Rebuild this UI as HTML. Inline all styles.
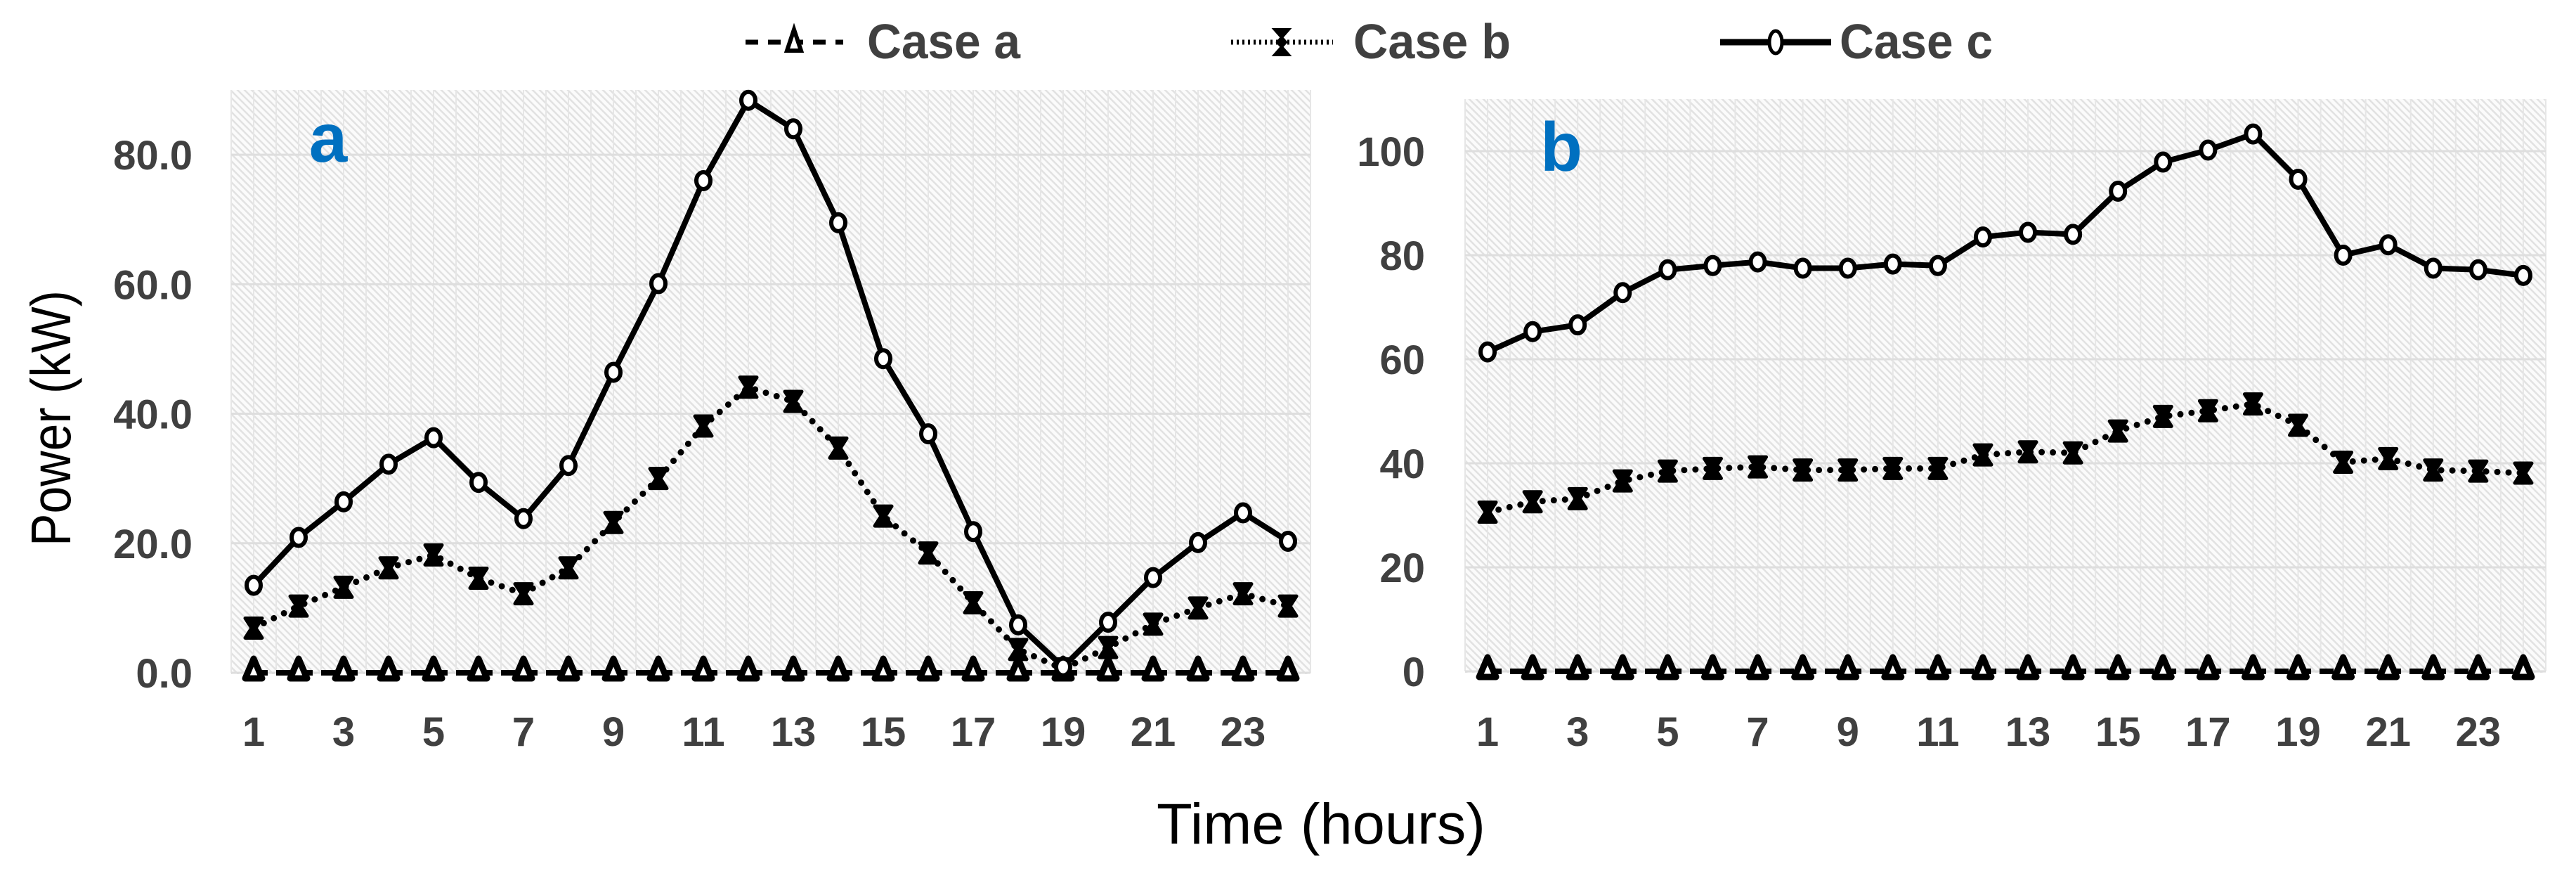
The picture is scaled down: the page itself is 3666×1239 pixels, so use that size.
<!DOCTYPE html>
<html><head><meta charset="utf-8"><style>
html,body{margin:0;padding:0;background:#fff;}
svg{display:block;}
text{font-family:"Liberation Sans",sans-serif;}
</style></head><body>
<svg id="chart" width="3666" height="1239" viewBox="0 0 3666 1239" xmlns="http://www.w3.org/2000/svg">
<defs>
<pattern id="hatch" patternUnits="userSpaceOnUse" width="10" height="10">
<rect width="10" height="10" fill="#fbfbfb"/>
<path d="M-2,-2 L12,12 M-2,8 L2,12 M8,-2 L12,2" stroke="#e2e2e2" stroke-width="2.5"/>
</pattern>
</defs>
<g id="legend">
<g>
<line x1="1061" y1="60" x2="1200" y2="60" stroke="#000" stroke-width="7" stroke-dasharray="18 14"/>
<polygon points="1130,42 1120,72 1140,72" fill="#fff" stroke="#000" stroke-width="6"/>
<text x="1234" y="83" font-size="70" font-weight="bold" fill="#404040" textLength="218" lengthAdjust="spacingAndGlyphs">Case a</text>
</g>
<g>
<line x1="1752" y1="60" x2="1897" y2="60" stroke="#000" stroke-width="7" stroke-dasharray="3 5"/>
<polygon points="1814,42 1834,42 1818,60 1834,78 1814,78 1830,60" fill="#000" stroke="#000" stroke-width="4"/>
<text x="1926" y="83" font-size="70" font-weight="bold" fill="#404040" textLength="224" lengthAdjust="spacingAndGlyphs">Case b</text>
</g>
<g>
<line x1="2448" y1="60" x2="2606" y2="60" stroke="#000" stroke-width="9"/>
<ellipse cx="2527" cy="60" rx="9" ry="16" fill="#fff" stroke="#000" stroke-width="5"/>
<text x="2618" y="83" font-size="70" font-weight="bold" fill="#404040" textLength="218" lengthAdjust="spacingAndGlyphs">Case c</text>
</g>
</g>
<text transform="translate(100,595) rotate(-90)" text-anchor="middle" font-size="80" fill="#000" textLength="364" lengthAdjust="spacingAndGlyphs">Power (kW)</text>
<text x="1880" y="1200" text-anchor="middle" font-size="82" fill="#000" textLength="468" lengthAdjust="spacingAndGlyphs">Time (hours)</text>
<g id="panelA"></g>
<g id="panelB"></g>
</svg>
<script>
const hours = [1,2,3,4,5,6,7,8,9,10,11,12,13,14,15,16,17,18,19,20,21,22,23,24];
const panelAcaseA = [0,0,0,0,0,0,0,0,0,0,0,0,0,0,0,0,0,0,0,0,0,0,0,0];
const panelAcaseB = [6.9,10.3,13.2,16.2,18.2,14.6,12.2,16.2,23.2,30,38.1,44.1,41.9,34.7,24.2,18.5,10.8,3.6,0.6,3.9,7.5,10,12.2,10.3];
const panelAcaseC = [13.5,20.9,26.4,32.2,36.3,29.4,23.8,32,46.4,60.1,76,88.4,84,69.5,48.5,36.9,21.8,7.4,0.9,7.8,14.7,20.1,24.7,20.3];
const panelBcaseA = [0,0,0,0,0,0,0,0,0,0,0,0,0,0,0,0,0,0,0,0,0,0,0,0];
const panelBcaseB = [30.6,32.6,33.2,36.6,38.5,39,39.3,38.7,38.7,39,39,41.6,42.2,42,46.2,49,50.1,51.4,47.3,40.2,40.9,38.7,38.5,38.1];
const panelBcaseC = [61.4,65.3,66.6,72.8,77.2,78,78.7,77.5,77.5,78.3,78,83.5,84.4,84,92.3,97.9,100.2,103.3,94.6,80,82,77.5,77.2,76.1];
const panelATicks = [0,20,40,60,80];
const panelATickLabels = ["0.0","20.0","40.0","60.0","80.0"];
const panelBTicks = [0,20,40,60,80,100];
const panelBTickLabels = ["0","20","40","60","80","100"];
const xTickLabels = ["1","3","5","7","9","11","13","15","17","19","21","23"];

const NS = "http://www.w3.org/2000/svg";
function mk(tag, attrs, parent){const e=document.createElementNS(NS,tag);for(const k in attrs)e.setAttribute(k,attrs[k]);parent.appendChild(e);return e;}

function drawPanel(g, cfg){
  const {left,right,top,zeroY,maxV,ticks,tickLabels,a,b,c,letter,letterX,labelRight,prefix}=cfg;
  const plotH = zeroY-top;
  const y = v => zeroY - v/maxV*plotH;
  const n = hours.length;
  const band = (right-left)/n;
  const x = i => left + band*(i+0.5);
  const bg = mk('rect',{x:left,y:top,width:right-left,height:zeroY-top+2,fill:'url(#hatch)'},g);
  
  
  for(let k=0;k<=n*2;k++){
    const vx = left + band*k/2;
    const vl = mk('line',{x1:vx,y1:top,x2:vx,y2:zeroY,stroke:'#e6e6e6','stroke-width':2},g);
    
    
  }
  ticks.forEach((t,i)=>{
    const gl = mk('line',{x1:left,y1:y(t),x2:right,y2:y(t),stroke:'#dedede','stroke-width':3},g);
    
    
    const tl = mk('text',{x:labelRight,y:y(t)+21,'text-anchor':'end','font-size':58,'font-weight':'bold',fill:'#404040'},g);
    tl.textContent = tickLabels[i];
    
    
  });
  xTickLabels.forEach(l=>{
    const i = hours.indexOf(+l);
    const xl = mk('text',{x:x(i),y:1061,'text-anchor':'middle','font-size':58,'font-weight':'bold',fill:'#404040'},g);
    xl.textContent = l;
    
    
  });
  const lt = mk('text',{x:letterX,y:top+102,'text-anchor':'middle','font-size':98,'font-weight':'bold',fill:'#0070c0'},g);
  lt.textContent = letter;
  
  
  const pts = arr => arr.map((v,i)=>x(i)+','+y(v)).join(' ');
  // case a
  const la = mk('polyline',{points:pts(a),fill:'none',stroke:'#000','stroke-width':8,'stroke-dasharray':'20 12'},g);
  
  
  a.forEach((v,i)=>{
    const cx=x(i), cy=y(v);
    const m = mk('polygon',{points:`${cx},${cy-20} ${cx-12},${cy+8} ${cx+12},${cy+8}`,fill:'#fff',stroke:'#000','stroke-width':9,'stroke-linejoin':'round'},g);
    
    
  });
  // case b
  const lb = mk('polyline',{points:pts(b),fill:'none',stroke:'#000','stroke-width':9,'stroke-dasharray':'0 16','stroke-linecap':'round'},g);
  
  
  b.forEach((v,i)=>{
    const cx=x(i), cy=y(v);
    const m = mk('polygon',{points:`${cx-12},${cy-14} ${cx+12},${cy-14} ${cx+3},${cy} ${cx+12},${cy+14} ${cx-12},${cy+14} ${cx-3},${cy}`,fill:'#000',stroke:'#000','stroke-width':5,'stroke-linejoin':'round'},g);
    
    
  });
  // case c
  const lc = mk('polyline',{points:pts(c),fill:'none',stroke:'#000','stroke-width':8,'stroke-linejoin':'round'},g);
  
  
  c.forEach((v,i)=>{
    const m = mk('ellipse',{cx:x(i),cy:y(v),rx:10,ry:12,fill:'#fff',stroke:'#000','stroke-width':6},g);
    
    
  });
}
drawPanel(document.getElementById('panelA'),{left:329,right:1865,top:128,zeroY:957,maxV:90,ticks:panelATicks,tickLabels:panelATickLabels,a:panelAcaseA,b:panelAcaseB,c:panelAcaseC,letter:'a',letterX:467,labelRight:274,prefix:'panel-a'});
drawPanel(document.getElementById('panelB'),{left:2085,right:3623,top:141,zeroY:955,maxV:110,ticks:panelBTicks,tickLabels:panelBTickLabels,a:panelBcaseA,b:panelBcaseB,c:panelBcaseC,letter:'b',letterX:2222,labelRight:2028,prefix:'panel-b'});
</script>
</body></html>
